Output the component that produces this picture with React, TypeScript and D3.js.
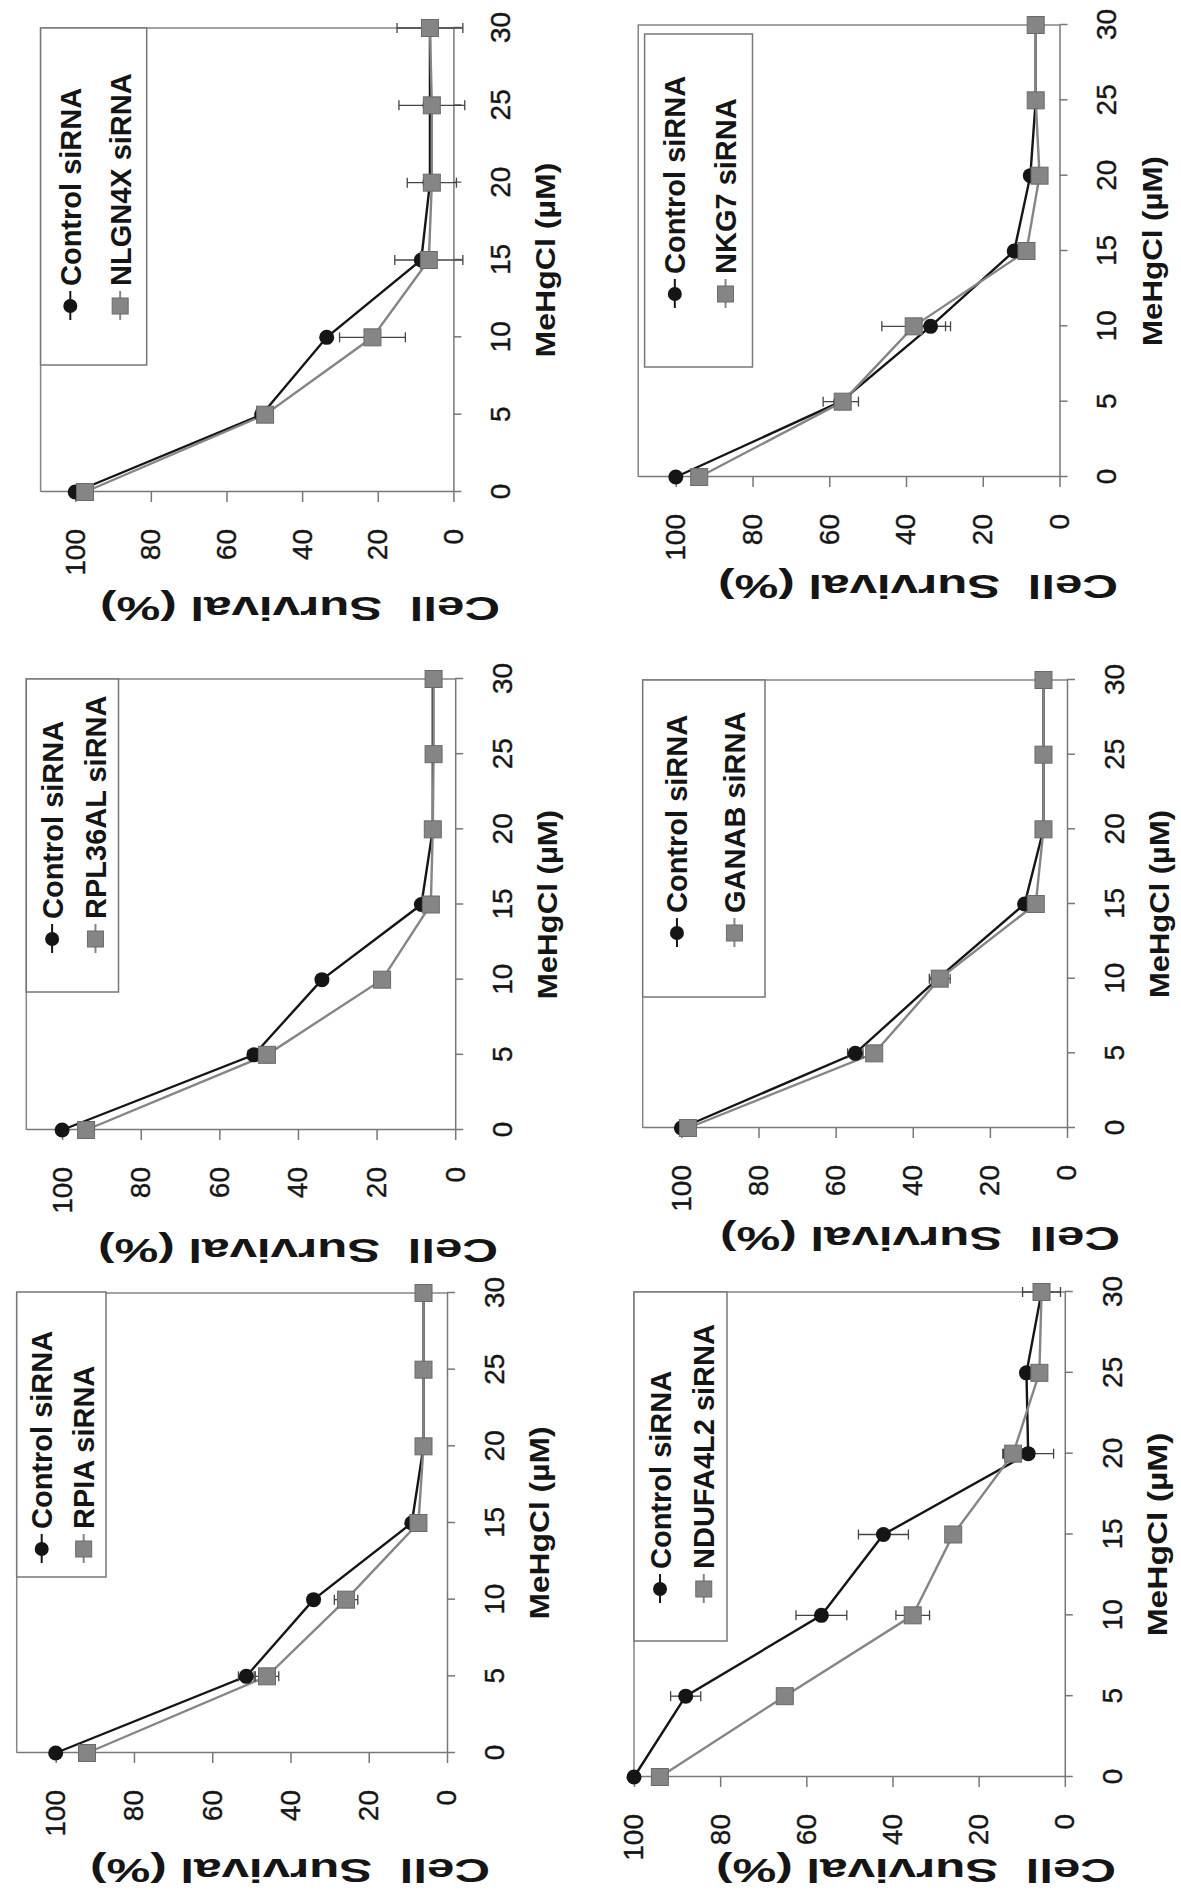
import React, { useEffect, useRef } from "react";
import * as d3 from "d3";

// MeHgCl doses (µM) and axis ticks
const doses = [0, 5, 10, 15, 20, 25, 30];
const xTicks = [0, 5, 10, 15, 20, 25, 30];
const yTicks = [0, 20, 40, 60, 80, 100];

const controlLabel = "Control siRNA";
const geneLabels = [
  "RPIA siRNA",
  "RPL36AL siRNA",
  "NLGN4X siRNA",
  "NDUFA4L2 siRNA",
  "GANAB siRNA",
  "NKG7 siRNA",
];

// cell survival (%), one row per panel
const controlMeans = [
  [100, 51.3, 34.1, 9.0, 6.0, 6.0, 6.0],
  [100, 51.2, 33.9, 8.6, 5.7, 5.7, 5.7],
  [100, 50.7, 33.5, 8.5, 6.2, 6.2, 6.2],
  [100, 88.0, 56.5, 42.1, 8.5, 8.9, 5.4],
  [100, 54.9, 33.5, 11.0, 6.1, 6.1, 6.1],
  [100, 57.0, 33.6, 11.8, 7.6, 6.2, 6.2],
];
const controlErr = [
  [0, 2.0, 1.2, 0.6, 0.3, 0.3, 0.3],
  [0, 1.5, 1.0, 0.6, 0.3, 0.3, 0.3],
  [0, 1.0, 1.0, 0.6, 0.3, 0.3, 0.3],
  [0, 3.5, 5.9, 5.8, 5.9, 0.5, 0.5],
  [0, 2.0, 1.0, 0.6, 0.3, 0.3, 0.3],
  [0, 4.6, 5.2, 0.6, 0.3, 0.3, 0.3],
];
const geneMeans = [
  [92.0, 46.0, 25.8, 7.3, 6.0, 6.0, 6.0],
  [93.9, 47.9, 18.6, 6.2, 5.7, 5.5, 5.5],
  [97.4, 49.8, 21.4, 6.5, 5.7, 5.7, 6.2],
  [94.0, 65.0, 35.3, 25.9, 12.0, 5.9, 5.4],
  [98.3, 50.0, 33.0, 8.1, 6.1, 6.1, 6.1],
  [93.9, 56.5, 38.0, 8.6, 5.2, 6.2, 6.2],
];
const geneErr = [
  [0, 3.0, 3.0, 0.6, 0.3, 0.3, 0.3],
  [0, 1.0, 1.0, 0.6, 0.3, 0.3, 0.3],
  [0, 1.0, 8.7, 9.0, 6.5, 8.7, 8.7],
  [0, 1.0, 3.9, 1.0, 2.2, 0.5, 4.4],
  [0, 1.0, 2.7, 1.0, 0.3, 0.3, 0.3],
  [0, 1.0, 8.3, 1.0, 0.3, 0.3, 0.3],
];

// panel geometry in the un-rotated figure (1891 wide x 1181 tall)
const layout = [
  { x0: 138, x30: 598, y0: 447, y100: 55.7, top: 16.7, lx: [314, 599], ly: [16.7, 106], tx: 362, titleX: 32, titleY: 290 },
  { x0: 761, x30: 1212, y0: 455.2, y100: 62.1, top: 26.3, lx: [899, 1212], ly: [26.3, 118.5], tx: 972, titleX: 652, titleY: 298 },
  { x0: 1399, x30: 1863, y0: 453.4, y100: 75.2, top: 40.6, lx: [1526, 1863], ly: [40.6, 146.7], tx: 1605, titleX: 1294, titleY: 300 },
  { x0: 114, x30: 599, y0: 1064.8, y100: 634, top: 634, lx: [250, 599], ly: [634, 727], tx: 322, titleX: 32, titleY: 916 },
  { x0: 763, x30: 1211, y0: 1067, y100: 681.4, top: 642.7, lx: [894, 1211], ly: [642.7, 765], tx: 978, titleX: 664, titleY: 920 },
  { x0: 1414, x30: 1866, y0: 1059.5, y100: 675.8, top: 638.2, lx: [1524, 1857], ly: [644.6, 752.5], tx: 1617, titleX: 1316, titleY: 918 },
];

const FONT = "'Liberation Sans', Arial, Helvetica, sans-serif";
const BLACK = "#151515";
const GREY = "#858585";
const SQUARE = "#858585";
const AXIS = "#777";

const App = () => {
  const svgRef = useRef<SVGSVGElement>(null);

  useEffect(() => {
    const root = d3.select(svgRef.current).select<SVGGElement>("g.fig");
    root.selectAll("*").remove();

    layout.forEach((L, i) => {
      const yMax = (100 * (L.y0 - L.top)) / (L.y0 - L.y100);
      const x = d3.scaleLinear().domain([0, 30]).range([L.x0, L.x30]);
      const y = d3.scaleLinear().domain([0, yMax]).range([L.y0, L.top]);
      const g = root.append("g");

      // plot area border (top and right)
      g.append("path")
        .attr("d", `M${x(0)},${y(yMax)}H${x(30)}V${y(0)}`)
        .attr("fill", "none")
        .attr("stroke", GREY)
        .attr("stroke-width", 1.5);

      const xAxis = d3.axisBottom(x).tickValues(xTicks).tickSize(8).tickSizeOuter(0).tickPadding(29);
      const gx = g.append("g").attr("transform", `translate(0,${L.y0})`).call(xAxis);

      const yAxis = d3.axisLeft(y).tickValues(yTicks).tickSize(10).tickSizeOuter(0).tickPadding(27);
      const gy = g.append("g").attr("transform", `translate(${L.x0},0)`).call(yAxis);

      [gx, gy].forEach((ax) => {
        ax.attr("font-family", FONT).attr("font-size", 28);
        ax.selectAll("path.domain, line").attr("stroke", AXIS).attr("stroke-width", 1.5);
        ax.selectAll("text").attr("fill", BLACK).attr("stroke", BLACK).attr("stroke-width", 0.4);
      });

      // series
      const line = d3
        .line<number>()
        .x((_, j) => x(doses[j]))
        .y((d) => y(d));

      g.append("path")
        .attr("d", line(controlMeans[i]))
        .attr("fill", "none")
        .attr("stroke", BLACK)
        .attr("stroke-width", 2.4);
      g.append("path")
        .attr("d", line(geneMeans[i]))
        .attr("fill", "none")
        .attr("stroke", GREY)
        .attr("stroke-width", 2.4);

      // error bars
      const bars = (means: number[], errs: number[]) => {
        means.forEach((m, j) => {
          const e = errs[j];
          if (!e) return;
          const cx = x(doses[j]);
          const eb = g.append("g").attr("stroke", "#444").attr("stroke-width", 1.3);
          eb.append("line").attr("x1", cx).attr("x2", cx).attr("y1", y(m - e)).attr("y2", y(m + e));
          [m - e, m + e].forEach((v) =>
            eb.append("line").attr("x1", cx - 5).attr("x2", cx + 5).attr("y1", y(v)).attr("y2", y(v))
          );
        });
      };
      bars(controlMeans[i], controlErr[i]);
      bars(geneMeans[i], geneErr[i]);

      g.selectAll(null)
        .data(controlMeans[i])
        .enter()
        .append("circle")
        .attr("cx", (_, j) => x(doses[j]))
        .attr("cy", (d) => y(d))
        .attr("r", 7.5)
        .attr("fill", BLACK);

      g.selectAll(null)
        .data(geneMeans[i])
        .enter()
        .append("rect")
        .attr("x", (_, j) => x(doses[j]) - 8.5)
        .attr("y", (d) => y(d) - 8.5)
        .attr("width", 17)
        .attr("height", 17)
        .attr("fill", SQUARE)
        .attr("stroke", "#6a6a6a")
        .attr("stroke-width", 1);

      // legend
      const [lx1, lx2] = L.lx;
      const [ly1, ly2] = L.ly;
      const lh = ly2 - ly1;
      g.append("rect")
        .attr("x", lx1)
        .attr("y", ly1)
        .attr("width", lx2 - lx1)
        .attr("height", lh)
        .attr("fill", "#fff")
        .attr("stroke", AXIS)
        .attr("stroke-width", 1.5);

      const rows = [
        { label: controlLabel, cy: ly1 + lh * 0.28, ctrl: true },
        { label: geneLabels[i], cy: ly1 + lh * 0.75, ctrl: false },
      ];
      rows.forEach((r) => {
        const mx = L.tx - 20;
        g.append("line")
          .attr("x1", L.tx - 34)
          .attr("x2", L.tx - 5)
          .attr("y1", r.cy)
          .attr("y2", r.cy)
          .attr("stroke", r.ctrl ? BLACK : GREY)
          .attr("stroke-width", 2);
        if (r.ctrl) {
          g.append("circle").attr("cx", mx).attr("cy", r.cy).attr("r", 7).attr("fill", BLACK);
        } else {
          g.append("rect")
            .attr("x", mx - 8)
            .attr("y", r.cy - 8)
            .attr("width", 16)
            .attr("height", 16)
            .attr("fill", SQUARE)
            .attr("stroke", "#6a6a6a");
        }
        g.append("text")
          .attr("x", L.tx)
          .attr("y", r.cy + 10.5)
          .attr("font-family", FONT)
          .attr("font-size", 29)
          .attr("font-weight", "bold")
          .attr("fill", BLACK)
          .text(r.label);
      });

      // axis titles
      g.append("text")
        .attr("x", (L.x0 + L.x30) / 2)
        .attr("y", L.y0 + 102)
        .attr("text-anchor", "middle")
        .attr("font-family", FONT)
        .attr("font-size", 28)
        .attr("font-weight", "bold")
        .attr("fill", BLACK)
        .attr("textLength", 0.42 * (L.x30 - L.x0))
        .attr("lengthAdjust", "spacingAndGlyphs")
        .text("MeHgCl (\u00b5M)");

      g.append("text")
        .attr("transform", `translate(${L.titleX},${L.titleY}) rotate(-90)`)
        .attr("text-anchor", "middle")
        .attr("font-family", FONT)
        .attr("font-size", 33)
        .attr("font-weight", "bold")
        .attr("fill", BLACK)
        .attr("textLength", 400)
        .attr("lengthAdjust", "spacingAndGlyphs")
        .attr("xml:space", "preserve")
        .text("Cell  Survival (%)");
    });
  }, []);

  return (
    <svg
      ref={svgRef}
      width={1181}
      height={1891}
      style={{ position: "absolute", left: 0, top: 0, background: "#fff" }}
    >
      <g className="fig" transform="translate(0,1891) rotate(-90)" />
    </svg>
  );
};

export default App;
